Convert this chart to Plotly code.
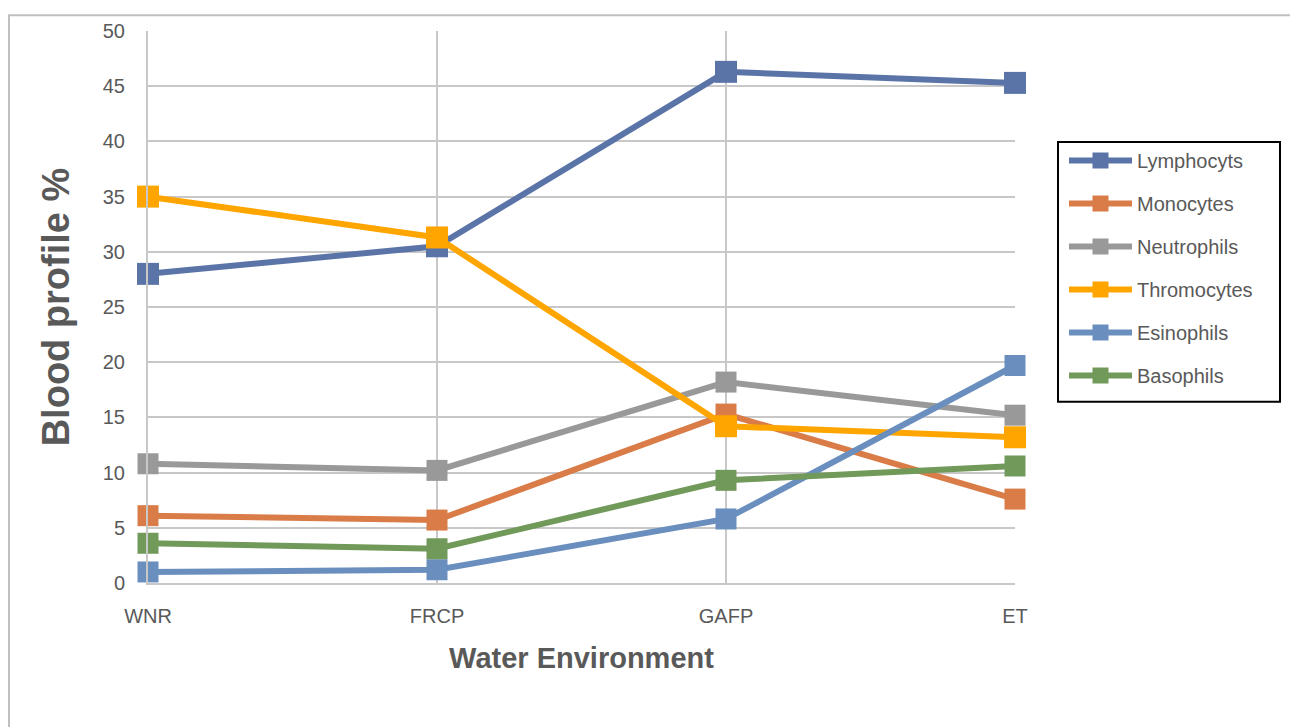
import plotly.graph_objects as go

categories = ["WNR", "FRCP", "GAFP", "ET"]
lymphocyts = [28.0, 30.5, 46.3, 45.3]
monocytes = [6.1, 5.7, 15.3, 7.6]
neutrophils = [10.8, 10.2, 18.2, 15.2]
thromocytes = [35.0, 31.3, 14.2, 13.2]
esinophils = [1.0, 1.2, 5.8, 19.7]
basophils = [3.6, 3.1, 9.3, 10.6]

series = [
    ("Lymphocyts", lymphocyts, "#5B74A8", 22),
    ("Monocytes", monocytes, "#D97C48", 21),
    ("Neutrophils", neutrophils, "#999999", 21),
    ("Thromocytes", thromocytes, "#FFA500", 22),
    ("Esinophils", esinophils, "#6A8FBF", 21),
    ("Basophils", basophils, "#70995A", 21),
]

FONT = "Liberation Sans Narrow, Arial Narrow, Liberation Sans, Arial, sans-serif"

L, T, PW, PH = 140, 18, 867, 557
W, H = 1298, 727

def px(x):
    return (x - L) / PW

def py(y):
    return (T + PH - y) / PH

fig = go.Figure()
for i, (name, vals, color, msize) in enumerate(series):
    fig.add_trace(go.Scatter(
        x=list(range(len(categories))), y=vals, name=name, mode="lines+markers",
        line=dict(color=color, width=6),
        marker=dict(symbol="square", size=msize, color=color),
        cliponaxis=False, legendgroup=f"g{i}",
    ))

fig.update_layout(
    width=W, height=H,
    margin=dict(l=L, r=W - L - PW, t=T, b=H - T - PH),
    plot_bgcolor="white", paper_bgcolor="white",
    font=dict(family=FONT, color="#595959"),
    showlegend=True,
    legend=dict(
        x=px(1056), y=py(129), xanchor="left", yanchor="top",
        borderwidth=0, bgcolor="rgba(0,0,0,0)",
        font=dict(size=20, color="#595959", family=FONT),
        tracegroupgap=14, itemwidth=63,
    ),
    xaxis=dict(
        range=[0, 3], tickmode="array", tickvals=list(range(len(categories))),
        ticktext=categories, showgrid=True, gridcolor="#C8C8C8", gridwidth=2,
        showline=True, linecolor="#C8C8C8", linewidth=2, zeroline=False,
        ticks="", ticklabelstandoff=14,
        tickfont=dict(size=20, color="#595959"),
        title=dict(text="<b>Water Environment</b>", font=dict(size=29, color="#595959"), standoff=22),
    ),
    yaxis=dict(
        range=[0, 50], dtick=5, showgrid=True, gridcolor="#C8C8C8", gridwidth=2,
        showline=True, linecolor="#C8C8C8", linewidth=2, zeroline=False,
        ticks="", ticklabelstandoff=17,
        tickfont=dict(size=20, color="#595959"),
        title=dict(text="<b>Blood profile %</b>", font=dict(size=38, color="#595959"), standoff=21),
    ),
    shapes=[
        dict(type="rect", xref="paper", yref="paper",
             x0=px(1), x1=px(1288), y0=py(H + 5), y1=py(2),
             line=dict(color="#C0C0C0", width=2), layer="below"),
        dict(type="rect", xref="paper", yref="paper",
             x0=px(1050), x1=px(1272), y0=py(392), y1=py(130),
             line=dict(color="black", width=2)),
    ],
)

fig.write_html("out.html")
